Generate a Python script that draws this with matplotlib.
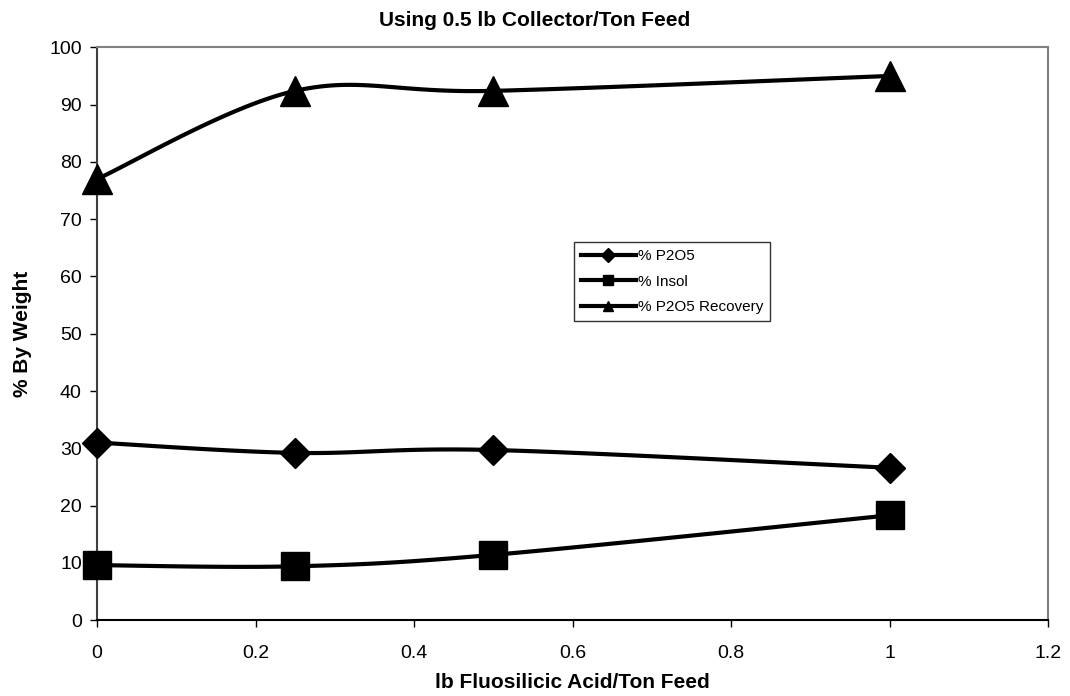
"""Flotation results vs fluosilicic acid dosage (0.5 lb collector)."""

import numpy as np
import matplotlib.pyplot as plt

plt.rcParams["font.family"] = ["Liberation Sans", "DejaVu Sans"]

acid = [0, 0.25, 0.5, 1]
p2o5 = [31.0, 29.2, 29.7, 26.6]
insol = [9.6, 9.4, 11.4, 18.3]
recovery = [77.0, 92.4, 92.4, 95.0]


def smooth(x, y, n=40):
    """Excel-like smoothed line (Catmull-Rom style Bezier)."""
    x = np.asarray(x, float)
    y = np.asarray(y, float)
    px = np.concatenate([[x[0]], x, [x[-1]]])
    py = np.concatenate([[y[0]], y, [y[-1]]])
    xs, ys = [], []
    t = np.linspace(0, 1, n)
    for i in range(1, len(px) - 2):
        p0 = np.array([px[i], py[i]])
        p3 = np.array([px[i + 1], py[i + 1]])
        c1 = p0 + (p3 - np.array([px[i - 1], py[i - 1]])) / 6
        c2 = p3 - (np.array([px[i + 2], py[i + 2]]) - p0) / 6
        b = ((1 - t) ** 3)[:, None] * p0 + (3 * (1 - t) ** 2 * t)[:, None] * c1 \
            + (3 * (1 - t) * t ** 2)[:, None] * c2 + (t ** 3)[:, None] * p3
        xs.extend(b[:, 0])
        ys.extend(b[:, 1])
    return xs, ys


fig = plt.figure(figsize=(10.7, 6.96), dpi=100)
ax = fig.add_axes([0.0907, 0.109, 0.8888, 0.823])

series = [
    (p2o5, "D", 15.5, "% P2O5"),
    (insol, "s", 20, "% Insol"),
    (recovery, "^", 21, "% P2O5 Recovery"),
]
handles = []
for vals, mk, ms, lab in series:
    sx, sy = smooth(acid, vals)
    ax.plot(sx, sy, color="black", lw=3, solid_capstyle="round", zorder=2)
    ax.plot(acid, vals, ls="none", marker=mk, ms=ms, color="black", zorder=3, clip_on=False)
    h, = ax.plot([], [], color="black", lw=3, marker=mk, ms=7, label=lab)
    handles.append(h)

ax.set_xlim(0, 1.2)
ax.set_ylim(0, 100)
ax.set_xticks(np.arange(0, 1.21, 0.2))
ax.set_xticklabels(["0", "0.2", "0.4", "0.6", "0.8", "1", "1.2"])
ax.set_yticks(range(0, 101, 10))
ax.tick_params(labelsize=14, direction="out", length=5, width=1, pad=13)
ax.tick_params(axis="y", pad=6)

for side in ["top", "right"]:
    ax.spines[side].set_color("#808080")
    ax.spines[side].set_linewidth(1.5)
ax.spines["left"].set_color("#404040")
ax.spines["left"].set_linewidth(1.5)
ax.spines["bottom"].set_color("black")
ax.spines["bottom"].set_linewidth(1.5)

# Excel centres the chart title on the whole chart, not on the plot area
fig.text(0.5, 1 - 20 / 696, "Using 0.5 lb Collector/Ton Feed", fontsize=15,
         fontweight="bold", ha="center", va="center")
ax.set_xlabel("lb Fluosilicic Acid/Ton Feed", fontsize=15, fontweight="bold", labelpad=8)
ax.set_ylabel("% By Weight", fontsize=15, fontweight="bold", labelpad=12)

leg = ax.legend(handles=handles, loc="upper left", bbox_to_anchor=(0.5016, 0.6597),
                borderaxespad=0, fontsize=11, frameon=True, fancybox=False,
                edgecolor="black", handlelength=3.6, handletextpad=0.15,
                borderpad=0.45, labelspacing=0.75)
leg.get_frame().set_linewidth(1)

fig.savefig("out.png", dpi=100)
